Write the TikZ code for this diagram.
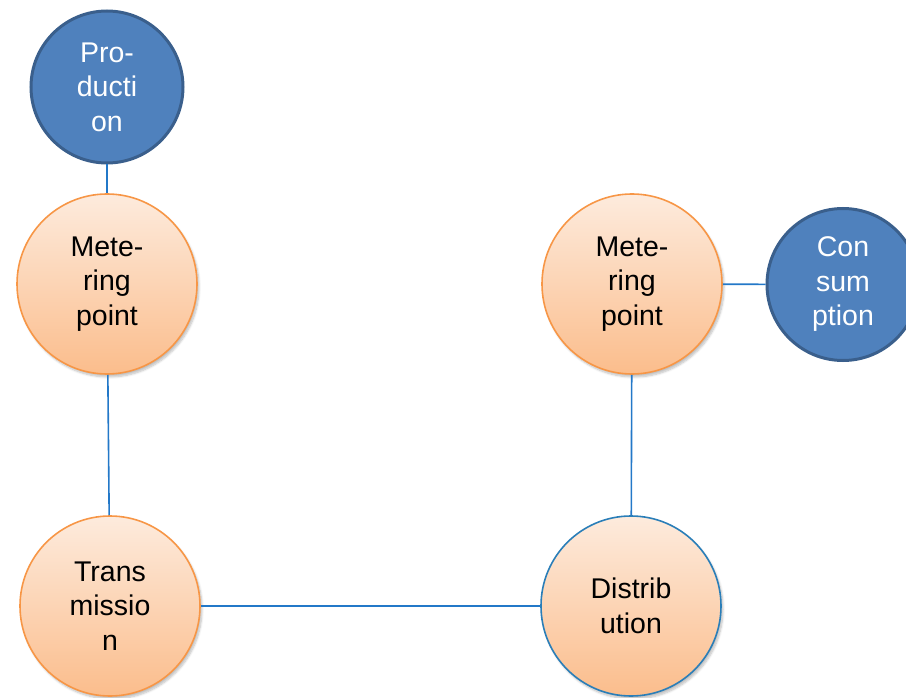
\documentclass[tikz,border=0pt]{standalone}
\usepackage{fontspec}
\setmainfont{Liberation Sans}
\usetikzlibrary{shadows.blur}
\definecolor{bluefill}{HTML}{4F81BD}
\definecolor{blueedge}{HTML}{3A5F8C}
\definecolor{peachtop}{HTML}{FDEBDD}
\definecolor{peachbot}{HTML}{FBBD8C}
\definecolor{orangeedge}{HTML}{F79646}
\definecolor{linkblue}{HTML}{2378C8}
\definecolor{distedge}{HTML}{2A7EB8}
\tikzset{
  x=1pt, y=-1pt,
  label text/.style={font=\fontsize{28.5}{34.5}\selectfont, align=center},
  endpoint/.style={circle, draw=blueedge, line width=3pt, fill=bluefill,
    minimum size=152pt, inner sep=0pt, text=white, label text},
  stage/.style={circle, draw=orangeedge, line width=1.6pt,
    top color=peachtop, bottom color=peachbot,
    minimum size=180pt, inner sep=0pt, text=black, label text,
    blur shadow={shadow xshift=2pt, shadow yshift=-3pt, shadow blur steps=6,
      shadow opacity=25}},
  link/.style={draw=linkblue, line width=1.6pt}
}
\begin{document}
\begin{tikzpicture}
\useasboundingbox (0,0) rectangle (906,698);
\node[endpoint] (prod) at (107,87) {Pro-\\ducti\\on};
\node[stage] (meterA) at (107,284) {Mete-\\ring\\point};
\node[stage] (trans) at (110,606) {Trans\\missio\\n};
\node[stage, draw=distedge] (dist) at (631,606) {Distrib\\ution};
\node[stage] (meterB) at (632,284) {Mete-\\ring\\point};
\node[endpoint] (cons) at (843,284.5) {Con\\sum\\ption};
\draw[link] (prod) -- (meterA);
\draw[link] (meterA) -- (trans);
\draw[link] (trans) -- (dist);
\draw[link] (dist) -- (meterB);
\draw[link] (meterB) -- (cons);
\end{tikzpicture}
\end{document}
